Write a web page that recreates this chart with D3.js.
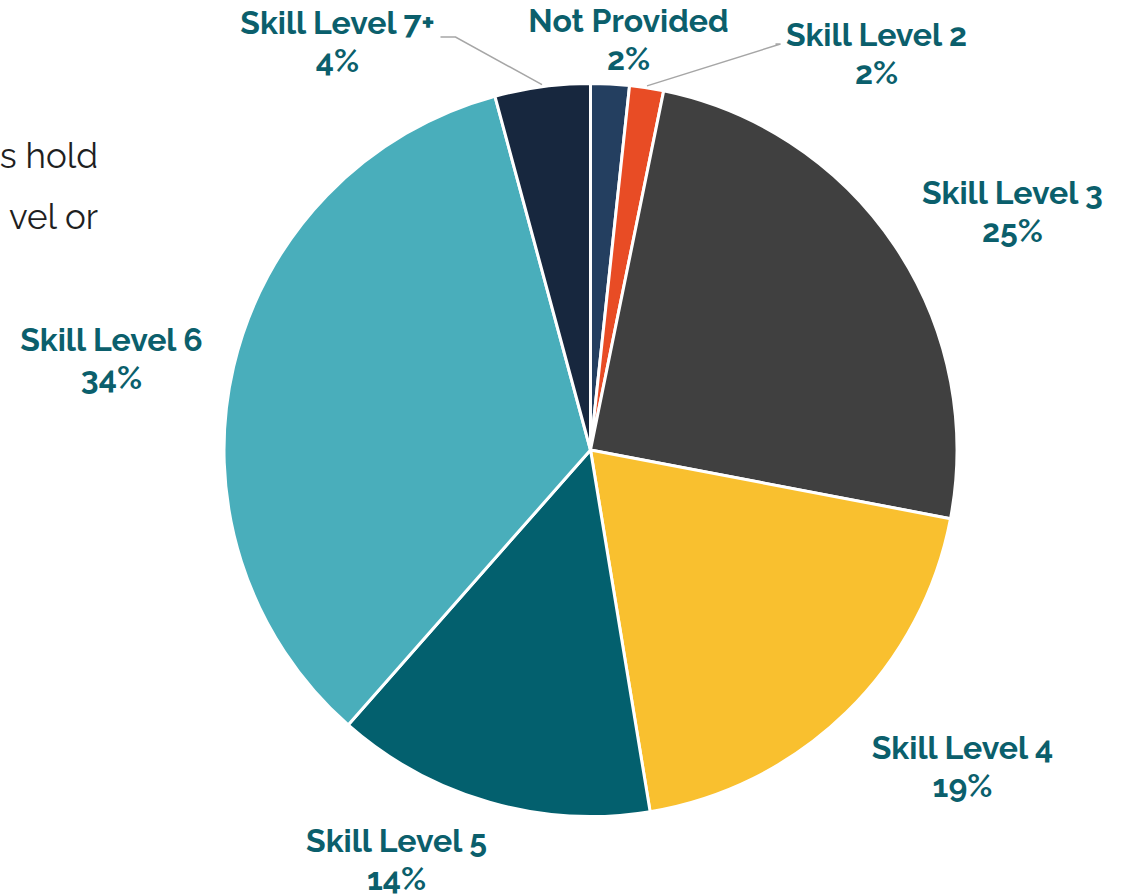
<!DOCTYPE html>
<html><head><meta charset="utf-8">
<script src="https://cdn.jsdelivr.net/npm/d3@7"></script>
<style>html,body{margin:0;padding:0;background:#fff;overflow:hidden}</style>
</head><body>
<svg id="c" width="1130" height="895"></svg>
<script>
const categories = ["Not Provided","Skill Level 2","Skill Level 3","Skill Level 4","Skill Level 5","Skill Level 6","Skill Level 7+"];
const values = [1.7, 1.5, 24.8, 19.4, 14.1, 34.3, 4.2];
const pctLabels = ["2%","2%","25%","19%","14%","34%","4%"];
const colors = ["#243f60","#e84c25","#404040","#f9c02f","#03606e","#49aebb","#17273e"];
const sideText = ["s hold","vel or"];

const W=1130,H=895, cx=590.5, cy=450, R=366.5;
const svg=d3.select("#c");
svg.selectAll("text.side").data(sideText).join("text").attr("class","side")
  .attr("x",98).attr("y",(d,i)=>168+i*61).attr("text-anchor","end")
  .attr("font-family","Raleway, Lato, 'Open Sans', sans-serif").attr("font-weight",400)
  .attr("font-size",35).attr("fill","#1f1f1f").text(d=>d);

const pie=d3.pie().sort(null).value(d=>d)(values);
const arc=d3.arc().innerRadius(0).outerRadius(R);
const g=svg.append("g").attr("transform",`translate(${cx},${cy})`);
g.selectAll("path").data(pie).join("path").attr("d",arc)
  .attr("fill",(d,i)=>colors[i]).attr("stroke","#fff").attr("stroke-width",3).attr("stroke-linejoin","round");

const labelPos = {
  "Not Provided":[38,-411],
  "Skill Level 2":[286,-397],
  "Skill Level 3":[422,-239],
  "Skill Level 4":[372,316],
  "Skill Level 5":[-194,409],
  "Skill Level 6":[-479,-92],
  "Skill Level 7+":[-253,-409]
};
const leaders = {
  "Skill Level 7+":{end:[-150,-413], hx:-135},
  "Skill Level 2":{end:[185,-406], hx:190}
};
pie.forEach((d,i)=>{
  const name=categories[i];
  const L=leaders[name];
  if(L){
    const mid=(d.startAngle+d.endAngle)/2;
    const sx=Math.sin(mid)*(R+2), sy=-Math.cos(mid)*(R+2);
    g.append("polyline").attr("points",[[sx,sy],[L.hx,L.end[1]],[L.end[0],L.end[1]]].map(p=>p.join(",")).join(" "))
      .attr("fill","none").attr("stroke","#a6a6a6").attr("stroke-width",1.5);
  }
  const [x,y]=labelPos[name];
  const t=g.append("text").attr("text-anchor","middle")
    .attr("font-family","Raleway, Lato, 'Open Sans', sans-serif").attr("font-weight",700)
    .attr("font-size",32).attr("fill","#0b5f6c");
  t.append("tspan").attr("x",x).attr("y",y-7).text(name);
  t.append("tspan").attr("x",x).attr("y",y+31).text(pctLabels[i]);
});
</script>
</body></html>
